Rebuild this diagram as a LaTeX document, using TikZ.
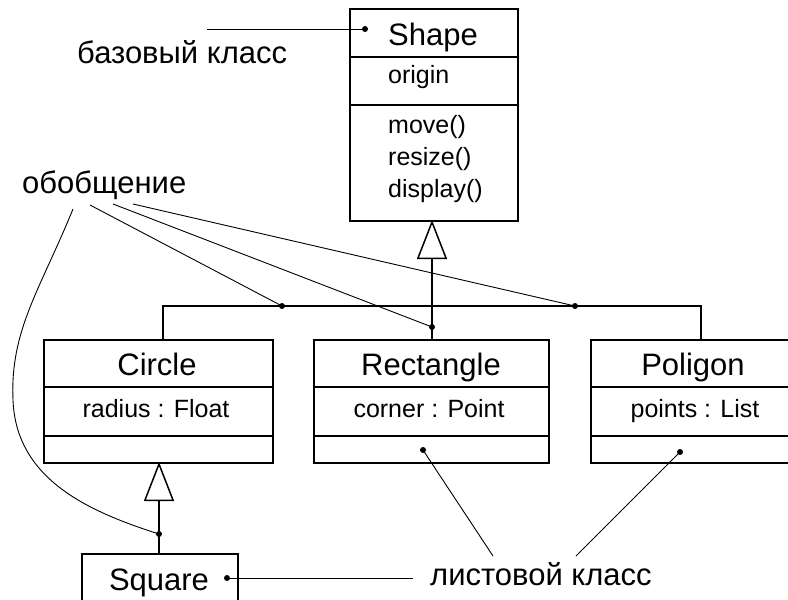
\documentclass[tikz,border=0pt]{standalone}
\usepackage{fontspec}
\setmainfont{Liberation Sans}
\usetikzlibrary{arrows.meta}
\begin{document}
\begin{tikzpicture}[x=1pt,y=-1pt,
 box/.style={draw, line width=1.5pt, rectangle, inner sep=0pt, anchor=north west},
 div/.style={line width=1.5pt},
 tree/.style={line width=1.5pt},
 lead/.style={line width=0.9pt},
 title/.style={font=\fontsize{31}{37}\selectfont, anchor=base, inner sep=0pt},
 attr/.style={font=\fontsize{25}{30}\selectfont, anchor=base, inner sep=0pt},
 lbl/.style={font=\fontsize{31}{37}\selectfont, anchor=base west, inner sep=0pt},
 dot/.style={circle, fill, inner sep=0pt, minimum size=6pt},
 gen/.style={-{Triangle[open, length=39pt, width=30pt, line width=1.5pt]}, line width=1.5pt}]
\useasboundingbox (0,0) rectangle (788,600);
\fill[white] (0,0) rectangle (788,600);
\clip (0,0) rectangle (788,600);

% Shape
\node[box, minimum width=168pt, minimum height=212pt] (shape) at (349,8) {};
\draw[div] (349,57) -- (517,57);
\draw[div] (349,105) -- (517,105);
\node[title] (shapet) at (433,45) {Shape};
\node[attr, anchor=base west] (origin) at (388,83) {origin};
\node[attr, anchor=base west] (move) at (388,133) {move()};
\node[attr, anchor=base west] (resize) at (388,165) {resize()};
\node[attr, anchor=base west] (display) at (388,197) {display()};

% Circle
\node[box, minimum width=229pt, minimum height=123pt] (circle) at (43,339) {};
\draw[div] (43,387) -- (272,387);
\draw[div] (43,436) -- (272,436);
\node[title] (circlet) at (157,375) {Circle};
\node[attr] (radius) at (156,417) {radius : Float};

% Rectangle
\node[box, minimum width=235pt, minimum height=123pt] (rect) at (313,339) {};
\draw[div] (313,387) -- (548,387);
\draw[div] (313,436) -- (548,436);
\node[title] (rectt) at (431,375) {Rectangle};
\node[attr] (corner) at (429,417) {corner : Point};

% Poligon
\node[box, minimum width=206pt, minimum height=123pt] (poli) at (590,339) {};
\draw[div] (590,387) -- (796,387);
\draw[div] (590,436) -- (796,436);
\node[title] (polit) at (693,375) {Poligon};
\node[attr] (points) at (695,417) {points : List};

% Square
\node[box, minimum width=156pt, minimum height=70pt] (square) at (81,553) {};
\node[title] (squaret) at (159,590) {Square};

% generalization tree
\coordinate (ctop) at (163,339);
\coordinate (ptop) at (701,339);
\draw[tree] (ctop) -- (163,306) -- (701,306) -- (ptop);
\coordinate (rtop) at (432,339);
\coordinate (sbot) at (432,220);
\draw[gen] (rtop) -- (sbot);
\coordinate (sqtop) at (159,553);
\coordinate (cbot) at (159,462);
\draw[gen] (sqtop) -- (cbot);

% dots
\node[dot] (d1) at (282,306) {};
\node[dot] (d2) at (575,306) {};
\node[dot] (d3) at (432,327) {};
\node[dot] (d4) at (159,534) {};
\node[dot] (d5) at (365,29) {};
\node[dot] (d6) at (227,578) {};
\node[dot] (d7) at (423,450) {};
\node[dot] (d8) at (680,452) {};

% labels
\node[lbl] (base) at (77,63) {базовый класс};
\node[lbl] (gen) at (22,193) {обобщение};
\node[lbl] (leaf) at (430,585) {листовой класс};

% leader lines
\coordinate (b0) at (207,29);
\draw[lead] (b0) -- (d5.center);
\coordinate (g0) at (73,209);
\coordinate (g1) at (90,205);
\coordinate (g2) at (113,204);
\coordinate (g3) at (133,204);
\draw[lead] (g1) -- (d1.center);
\draw[lead] (g2) -- (d3.center);
\draw[lead] (g3) -- (d2.center);
\draw[lead] (g0) .. controls (40,290) and (10,330) .. (13,400) .. controls (16,480) and (90,512) .. (d4.center);
\coordinate (l0) at (413,578);
\coordinate (l1) at (493,556);
\coordinate (l2) at (576,556);
\draw[lead] (l0) -- (d6.center);
\draw[lead] (l1) -- (d7.center);
\draw[lead] (l2) -- (d8.center);
\end{tikzpicture}
\end{document}
